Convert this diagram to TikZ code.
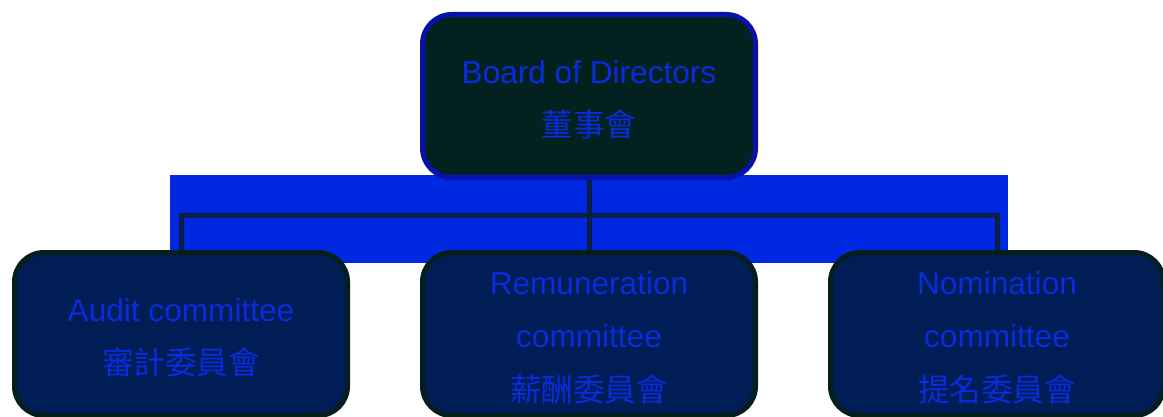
\documentclass[tikz,border=0pt]{standalone}
\usepackage{fontspec}
\setmainfont{Liberation Sans}
\newfontfamily\cjk{Noto Sans CJK TC}
\definecolor{boardfill}{RGB}{3,34,31}
\definecolor{boardline}{RGB}{8,18,170}
\definecolor{bandblue}{RGB}{0,40,224}
\definecolor{boxfill}{RGB}{0,29,85}
\definecolor{boxline}{RGB}{3,30,28}
\definecolor{textblue}{RGB}{8,44,222}
\definecolor{linkcol}{RGB}{10,30,70}
\newcommand\lift{\rule{0pt}{22.5pt}}
\begin{document}
\begin{tikzpicture}[x=0.75pt,y=-0.75pt,
  orgbox/.style={draw=boxline,fill=boxfill,line width=3.75pt,rounded corners=22pt,
    minimum width=249.75pt,minimum height=122.25pt,align=center,text=textblue,
    font=\fontsize{23.7}{40}\selectfont},
  topbox/.style={orgbox,draw=boardline,fill=boardfill},
  link/.style={draw=linkcol,line width=3.75pt}]

\useasboundingbox (0,0) rectangle (1163,417);
\clip (0,0) rectangle (1163,417);

\fill[bandblue] (170,175) rectangle (1008,263);

\node[topbox] (board) at (589,96) {\lift Board of Directors\\{\cjk 董事會}};

\node[orgbox] (audit) at (181,334) {\lift Audit committee\\{\cjk 審計委員會}};
\node[orgbox] (remun) at (589,334) {\lift Remuneration\\committee\\{\cjk 薪酬委員會}};
\node[orgbox] (nomin) at (997,334) {\lift Nomination\\committee\\{\cjk 提名委員會}};

\coordinate (hub) at (589,215);

\draw[link] (board) -- (hub);
\draw[link] (audit) |- (hub) -| (nomin);
\draw[link] (hub) -- (remun);

\end{tikzpicture}
\end{document}
